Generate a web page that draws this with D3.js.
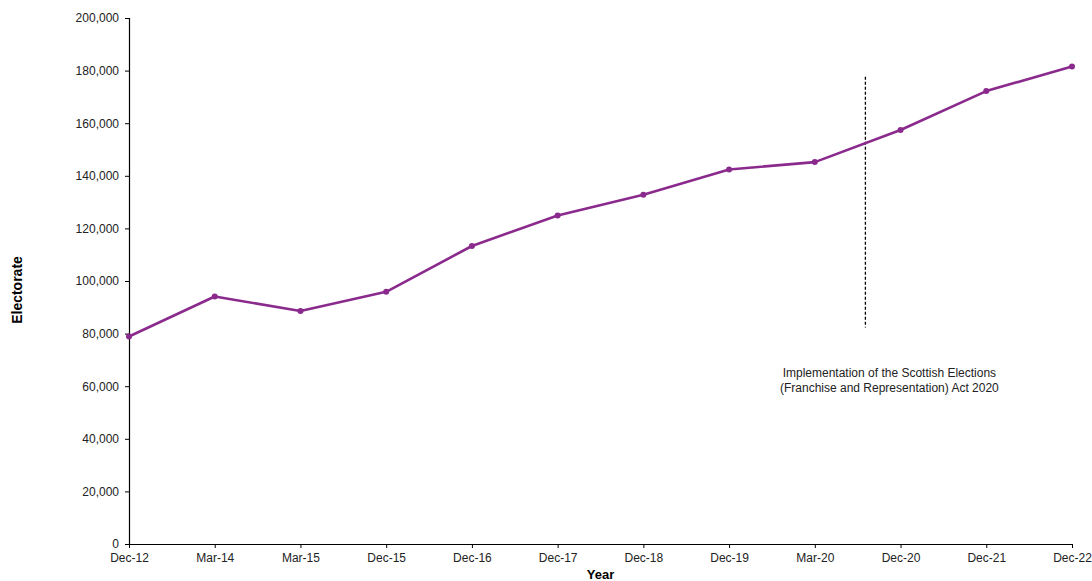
<!DOCTYPE html>
<html>
<head>
<meta charset="utf-8">
<script src="https://cdn.jsdelivr.net/npm/d3@7"></script>
<style>
  html, body { margin: 0; padding: 0; background: #fff; }
  svg { display: block; font-family: "Liberation Sans", Arial, sans-serif; }
</style>
</head>
<body>
<svg id="chart" width="1092" height="581"></svg>
<script>
// Electorate by reporting period
const periods = ["Dec-12", "Mar-14", "Mar-15", "Dec-15", "Dec-16", "Dec-17", "Dec-18", "Dec-19", "Mar-20", "Dec-20", "Dec-21", "Dec-22"];
const electorate = [78900, 94100, 88600, 95900, 113300, 124900, 132800, 142400, 145200, 157400, 172200, 181600];
const yTicks = [0, 20000, 40000, 60000, 80000, 100000, 120000, 140000, 160000, 180000, 200000];

// Act implementation marker: between Mar-20 and Dec-20, spanning these values
const markerAfter = "Mar-20";
const markerFraction = 0.59;
const markerRange = [82300, 177700];
const noteLines = ["Implementation of the Scottish Elections", "(Franchise and Representation) Act 2020"];

const margin = { left: 129, right: 20, top: 18, bottom: 37 };
const width = 1092, height = 581;
const svg = d3.select("#chart");

const x = d3.scalePoint().domain(periods).range([margin.left, width - margin.right]);
const y = d3.scaleLinear().domain([0, 200000]).range([height - margin.bottom, margin.top]);

const fmt = d3.format(",");

// Y axis
const yAxis = svg.append("g")
  .attr("transform", `translate(${margin.left},0)`)
  .call(d3.axisLeft(y).tickValues(yTicks).tickFormat(fmt).tickSize(4).tickPadding(6));
yAxis.select(".domain").attr("stroke", "#000").attr("stroke-width", 1.2);
yAxis.selectAll(".tick line").attr("stroke", "#000");
yAxis.selectAll("text").attr("font-size", 12).attr("fill", "#222");

// X axis
const xAxis = svg.append("g")
  .attr("transform", `translate(0,${height - margin.bottom})`)
  .call(d3.axisBottom(x).tickSize(4).tickPadding(5).tickSizeOuter(0));
xAxis.select(".domain").attr("stroke", "#000").attr("stroke-width", 1.2);
xAxis.selectAll(".tick line").attr("stroke", "#000");
xAxis.selectAll("text").attr("font-size", 12).attr("fill", "#222");

// Axis titles
svg.append("text")
  .attr("x", (margin.left + width - margin.right) / 2)
  .attr("y", 579)
  .attr("text-anchor", "middle")
  .attr("font-size", 13).attr("font-weight", "bold").attr("fill", "#000")
  .text("Year");

svg.append("text")
  .attr("transform", `translate(22,290) rotate(-90)`)
  .attr("text-anchor", "middle")
  .attr("font-size", 14).attr("font-weight", "bold").attr("fill", "#000")
  .text("Electorate");

// Dashed marker line
const step = x.step();
const mx = x(markerAfter) + markerFraction * step;
svg.append("line")
  .attr("x1", mx).attr("x2", mx)
  .attr("y1", y(markerRange[1])).attr("y2", y(markerRange[0]))
  .attr("stroke", "#000").attr("stroke-width", 1.3)
  .attr("stroke-dasharray", "3,2");

// Annotation
const note = svg.append("text")
  .attr("text-anchor", "middle")
  .attr("font-size", 12).attr("fill", "#222");
noteLines.forEach((t, i) => {
  note.append("tspan").attr("x", mx + 24).attr("y", 377 + i * 14.5).text(t);
});

// Series line and markers
const color = "#8b2a8d";
const data = periods.map((p, i) => ({ p, v: electorate[i] }));
svg.append("path")
  .datum(data)
  .attr("fill", "none")
  .attr("stroke", color)
  .attr("stroke-width", 2.6)
  .attr("stroke-linejoin", "round")
  .attr("d", d3.line().x(d => x(d.p)).y(d => y(d.v)));

svg.selectAll("circle.pt")
  .data(data)
  .join("circle")
  .attr("class", "pt")
  .attr("cx", d => x(d.p))
  .attr("cy", d => y(d.v))
  .attr("r", 3)
  .attr("fill", color);
</script>
</body>
</html>
